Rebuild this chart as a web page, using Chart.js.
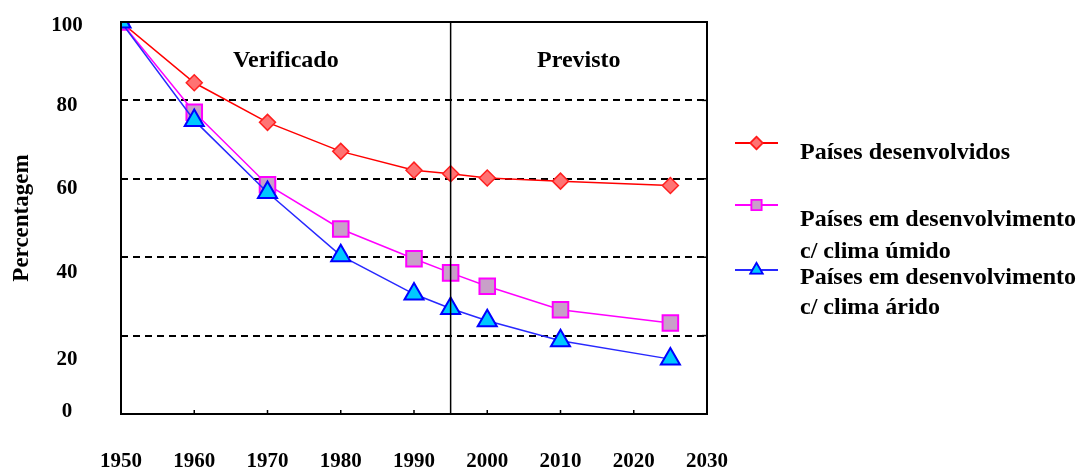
<!DOCTYPE html>
<html>
<head>
<meta charset="utf-8">
<script src="https://cdn.jsdelivr.net/npm/chart.js@4"></script>
<style>
  html, body { margin: 0; padding: 0; background: #fff; }
  #wrap { width: 1083px; height: 472px; }
</style>
</head>
<body>
<div id="wrap"><canvas id="grafico"></canvas></div>
<script>
// dados
const anos = [1950, 1960, 1970, 1980, 1990, 1995, 2000, 2010, 2025];
const desenvolvidos = [100, 84.5, 74.4, 67.0, 62.2, 61.3, 60.2, 59.4, 58.3];
const climaUmido = [100, 77.0, 58.5, 47.2, 39.6, 36.0, 32.6, 26.6, 23.2];
const climaArido = [100, 74.9, 56.5, 40.4, 30.6, 26.9, 23.8, 18.7, 14.0];
const yTicks = [0, 20, 40, 60, 80, 100];
const xTicks = [1950, 1960, 1970, 1980, 1990, 2000, 2010, 2020, 2030];
const anoDivisao = 1995;
const periodos = ['Verificado', 'Previsto'];
const nomesSeries = [
    ['Países desenvolvidos'],
    ['Países em desenvolvimento', 'c/ clima úmido'],
    ['Países em desenvolvimento', 'c/ clima árido']
];

const fonte = '"Liberation Serif", "Times New Roman", serif';

function pontos(valores) {
    return anos.map((ano, i) => ({ x: ano, y: valores[i] }));
}

// deslocamentos dos rotulos do eixo y como no original
const ajusteRotulos = { 0: -2, 20: 24, 40: 15, 60: 10, 80: 5, 100: 4 };

const extras = {
    id: 'extras',
    afterDatasetsDraw(chart) {
        const { ctx, chartArea: a, scales: { x, y } } = chart;
        ctx.save();
        ctx.strokeStyle = '#000';
        ctx.setLineDash([]);

        // linha que separa verificado / previsto
        const xd = x.getPixelForValue(anoDivisao);
        ctx.lineWidth = 1.5;
        ctx.beginPath();
        ctx.moveTo(xd, a.top);
        ctx.lineTo(xd, a.bottom);
        ctx.stroke();

        // pequenos tracos internos
        xTicks.slice(1, -1).forEach(v => {
            const px = x.getPixelForValue(v);
            ctx.beginPath();
            ctx.moveTo(px, a.bottom);
            ctx.lineTo(px, a.bottom - 4);
            ctx.stroke();
        });
        yTicks.slice(1, -1).forEach(v => {
            const py = y.getPixelForValue(v);
            ctx.beginPath();
            ctx.moveTo(a.right, py);
            ctx.lineTo(a.right - 5, py);
            ctx.stroke();
        });

        // moldura
        ctx.lineWidth = 2;
        ctx.strokeRect(a.left, a.top, a.right - a.left, a.bottom - a.top);
        ctx.restore();
    },
    afterDraw(chart) {
        const { ctx, chartArea: a, scales: { x, y } } = chart;
        ctx.save();
        ctx.fillStyle = '#000';
        ctx.textBaseline = 'middle';

        // rotulos do eixo y
        ctx.font = 'bold 21px ' + fonte;
        ctx.textAlign = 'center';
        yTicks.forEach(v => {
            ctx.fillText(String(v), 67, y.getPixelForValue(v) + ajusteRotulos[v]);
        });

        // titulos dos periodos
        const xd = x.getPixelForValue(anoDivisao);
        const yTexto = y.getPixelForValue(90);
        ctx.font = 'bold 24px ' + fonte;
        ctx.fillText(periodos[0], (a.left + xd) / 2, yTexto);
        ctx.fillText(periodos[1], (xd + a.right) / 2, yTexto);

        // legenda
        const linhasY = [143, 205, 270];
        const textosY = [[153], [220, 252], [278, 308]];
        ctx.textAlign = 'left';
        chart.data.datasets.forEach((ds, i) => {
            const ly = linhasY[i];
            ctx.strokeStyle = ds.borderColor;
            ctx.lineWidth = 2;
            ctx.beginPath();
            ctx.moveTo(735, ly);
            ctx.lineTo(778, ly);
            ctx.stroke();
            Chart.helpers.drawPoint(ctx, {
                pointStyle: ds.pointStyle,
                radius: ds.legendRadius,
                rotation: 0,
                borderWidth: 1.5
            }, 756.5, ly);
            ctx.fillStyle = ds.pointBackgroundColor;
            ctx.strokeStyle = ds.pointBorderColor;
            ctx.lineWidth = 1.5;
            ctx.fill();
            ctx.stroke();
            ctx.fillStyle = '#000';
            ctx.font = 'bold 24px ' + fonte;
            nomesSeries[i].forEach((t, j) => ctx.fillText(t, 800, textosY[i][j]));
        });
        ctx.restore();
    }
};

new Chart(document.getElementById('grafico'), {
    type: 'line',
    data: {
        datasets: [
            {
                label: nomesSeries[0].join(' '),
                data: pontos(desenvolvidos),
                borderColor: '#ff0000',
                borderWidth: 1.5,
                pointStyle: 'rectRot',
                pointRadius: 8,
                legendRadius: 6,
                pointBackgroundColor: '#ff7373',
                pointBorderColor: '#ff2020',
                pointBorderWidth: 1.5,
                order: 2,
                clip: 0
            },
            {
                label: nomesSeries[1].join(' '),
                data: pontos(climaUmido),
                borderColor: '#ff00ff',
                borderWidth: 1.5,
                pointStyle: 'rect',
                pointRadius: 11,
                legendRadius: 7,
                pointBackgroundColor: '#c8a0c8',
                pointBorderColor: '#ff00ff',
                pointBorderWidth: 2,
                order: 1,
                clip: 0
            },
            {
                label: nomesSeries[2].join(' '),
                data: pontos(climaArido),
                borderColor: '#2828ff',
                borderWidth: 1.5,
                pointStyle: 'triangle',
                pointRadius: 11,
                legendRadius: 7,
                pointBackgroundColor: '#00c8ff',
                pointBorderColor: '#0000ff',
                pointBorderWidth: 2,
                order: 0,
                clip: 0
            }
        ]
    },
    options: {
        responsive: true,
        maintainAspectRatio: false,
        animation: false,
        layout: { padding: { top: 22, right: 376, left: 0, bottom: 0 } },
        elements: { line: { tension: 0 } },
        plugins: {
            legend: { display: false },
            tooltip: { enabled: false }
        },
        scales: {
            x: {
                type: 'linear',
                min: 1950,
                max: 2030,
                afterBuildTicks: s => { s.ticks = xTicks.map(v => ({ value: v })); },
                afterFit: s => { s.height = 58; },
                ticks: {
                    font: { family: fonte, size: 21, weight: 'bold' },
                    color: '#000',
                    padding: 35,
                    maxRotation: 0,
                    autoSkip: false,
                    callback: v => String(v)
                },
                grid: { display: false, drawTicks: false },
                border: { display: false }
            },
            y: {
                min: 0,
                max: 100,
                afterBuildTicks: s => { s.ticks = yTicks.map(v => ({ value: v })); },
                afterFit: s => { s.width = 121; },
                ticks: { display: false },
                grid: {
                    drawTicks: false,
                    lineWidth: 2,
                    color: c => (c.tick && (c.tick.value === 0 || c.tick.value === 100)) ? 'rgba(0,0,0,0)' : '#000'
                },
                border: { display: false, dash: [7, 5] },
                title: {
                    display: true,
                    text: 'Percentagem',
                    color: '#000',
                    font: { family: fonte, size: 23, weight: 'bold' },
                    padding: { top: 8, bottom: 0 }
                }
            }
        }
    },
    plugins: [extras]
});
</script>
</body>
</html>
